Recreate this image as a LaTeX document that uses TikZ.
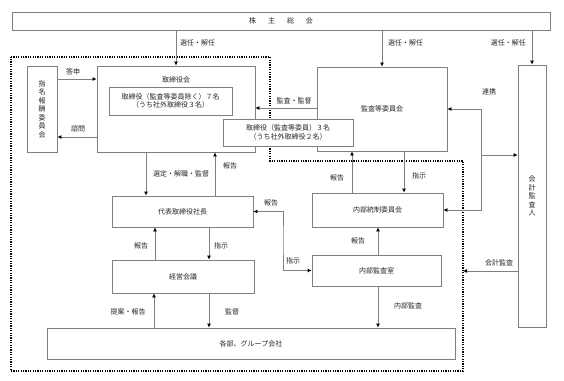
\documentclass[tikz,border=0pt]{standalone}
\usepackage{fontspec}
\setmainfont{Noto Sans CJK JP}
\usetikzlibrary{
    arrows.meta,
    positioning
}
\tikzset{
    orgbox/.style={
        draw=black!50,
        rectangle,
        line width=0.8pt,
        fill=white,
        inner sep=1pt,
        align=center,
        text=black!85
    },
    lab/.style={
        inner sep=0pt,
        align=center,
        text=black!85
    },
    arr/.style={
        -{Latex[length=4pt,width=4pt,color=black]},
        draw=black!50,
        line width=0.8pt
    },
    arrboth/.style={
        {Latex[length=4pt,width=4pt,color=black]}-{Latex[length=4pt,width=4pt,color=black]},
        draw=black!50,
        line width=0.8pt
    },
    dotframe/.style={
        draw=black,
        line width=1.3pt,
        dash pattern=on 1.2pt off 1.2pt
    }
}

\begin{document}
\begin{tikzpicture}[x=1pt,y=-1pt,>=Latex,font=\fontsize{7}{8.5}\selectfont]
\useasboundingbox (0,0) rectangle (564,380);
\draw[dotframe] (11,57) -- (270,57) -- (270,161) -- (463,161) -- (463,371) -- (11,371) -- cycle;
\node[orgbox, minimum width=538, minimum height=18] (gm) at (281,21) {株\hspace{12pt}主\hspace{12pt}総\hspace{12pt}会};
\node[orgbox, minimum width=30, minimum height=86] (nom) at (42,109) {指\\名\\報\\酬\\委\\員\\会};
\node[orgbox, minimum width=158, minimum height=86] (board) at (176,109) {};
\node[lab] (boardt) at (176,80) {取締役会};
\node[orgbox, minimum width=123, minimum height=28] (dir) at (170.5,101) {取締役（監査等委員除く）７名\\（うち社外取締役３名）};
\node[orgbox, minimum width=130, minimum height=84] (acc) at (382,109) {監査等委員会};
\node[orgbox, minimum width=130, minimum height=27] (acm) at (288,132.5) {取締役（監査等委員）３名\\（うち社外取締役２名）};
\node[orgbox, minimum width=28, minimum height=262] (aud) at (532,196) {会\\計\\監\\査\\人};
\node[orgbox, minimum width=141, minimum height=31] (rep) at (182.5,211.5) {代表取締役社長};
\node[orgbox, minimum width=142, minimum height=33] (mgm) at (183,276.5) {経営会議};
\node[orgbox, minimum width=131, minimum height=34] (icc) at (377.5,210) {内部統制委員会};
\node[orgbox, minimum width=129, minimum height=31] (iad) at (376.5,270.5) {内部監査室};
\node[orgbox, minimum width=408, minimum height=31] (div) at (251,343.5) {各部、グループ会社};
% shareholders
\draw[arr] (gm.south -| board.north) -- (board.north);
\draw[arr] (gm.south -| acc.north) -- (acc.north);
\draw[arr] (gm.south -| aud.north) -- (aud.north);
\node[lab, anchor=west] (sel1) at (180,43) {選任・解任};
\node[lab, anchor=west] (sel2) at (388,43) {選任・解任};
\node[lab, anchor=east] (sel3) at (526,43) {選任・解任};
% nomination committee
\draw[arr] ([yshift=30]nom.east) -- ([yshift=30]board.west);
\draw[arr] ([yshift=-28]board.west) -- ([yshift=-28]nom.east);
\node[lab] (ans) at (73,72) {答申};
\node[lab] (ask) at (78,129) {諮問};
% audit committee
\draw[arr] ([yshift=1]acc.west) -- ([yshift=1]board.east);
\node[lab] (audsup) at (294,101) {監査・監督};
\coordinate (lk) at (481,155);
\draw[arr] (lk) |- (acc.east);
\draw[arr] (lk) |- (icc.east);
\draw[arr] (lk) -- (lk -| aud.west);
\node[lab] (coop) at (489,92) {連携};
\draw[arr] ([xshift=22]acc.south) -- ([xshift=22]acc.south |- icc.north);
\node[lab] (ins1) at (419,176) {指示};
\draw[arr] ([xshift=-30]acc.south |- icc.north) -- ([xshift=-30]acc.south);
\node[lab] (rep1) at (337,178) {報告};
\draw[arr] ([xshift=1.5]iad.north) -- ([xshift=1.5]iad.north |- icc.south);
\node[lab] (rep2) at (358,241) {報告};
% board and president
\draw[arr] ([xshift=-30]board.south) -- ([xshift=-30]board.south |- rep.north);
\node[lab] (appt) at (181,174) {選定・解職・監督};
\draw[arr] ([xshift=39]board.south |- rep.north) -- ([xshift=39]board.south);
\node[lab] (rep3) at (230,166) {報告};
\coordinate (ri) at (283,240);
\draw[arrboth] (rep.east) -| (ri) |- (iad.west);
\node[lab] (rep4) at (271,203) {報告};
\node[lab] (ins2) at (293,261) {指示};
% management meeting
\draw[arr] ([xshift=26.5]rep.south) -- ([xshift=26.5]rep.south |- mgm.north);
\node[lab] (ins3) at (221,246) {指示};
\draw[arr] ([xshift=-28]mgm.north) -- ([xshift=-28]mgm.north |- rep.south);
\node[lab] (rep5) at (141,246) {報告};
\draw[arr] ([xshift=-29]mgm.south |- div.north) -- ([xshift=-29]mgm.south);
\node[lab] (prop) at (128,312) {提案・報告};
\draw[arr] ([xshift=26]mgm.south) -- ([xshift=26]mgm.south |- div.north);
\node[lab] (sup) at (232,312) {監督};
% audits
\draw[arr] ([xshift=1.5]iad.south) -- ([xshift=1.5]iad.south |- div.north);
\node[lab] (intaud) at (408,306) {内部監査};
\coordinate (fr) at (463,271);
\draw[arr] (aud.west |- fr) -- (fr);
\node[lab] (accaud) at (499,263) {会計監査};
\end{tikzpicture}
\end{document}
